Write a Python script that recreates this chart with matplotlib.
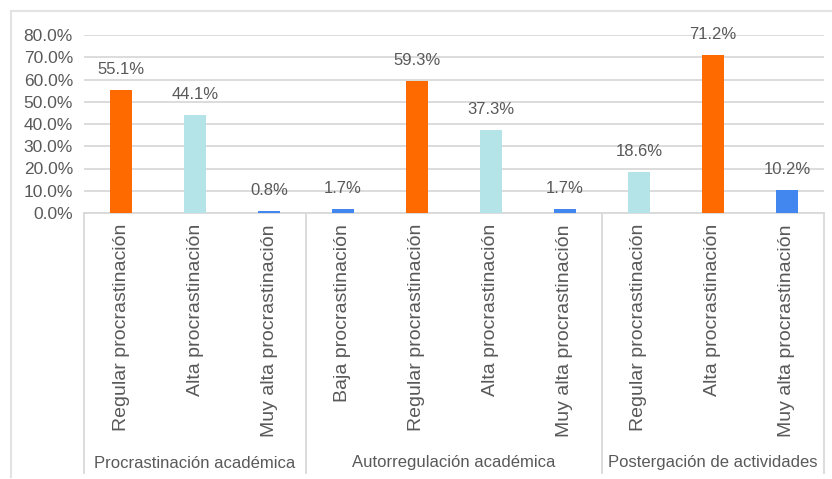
import matplotlib.pyplot as plt
from matplotlib.lines import Line2D

plt.rcParams['font.family'] = ['Liberation Sans', 'DejaVu Sans']

# datos del gráfico
grupos = ["Procrastinación académica", "Autorregulación académica", "Postergación de actividades"]
categorias = [
    ["Regular procrastinación", "Alta procrastinación", "Muy alta procrastinación"],
    ["Baja procrastinación", "Regular procrastinación", "Alta procrastinación", "Muy alta procrastinación"],
    ["Regular procrastinación", "Alta procrastinación", "Muy alta procrastinación"],
]
valores = [
    [55.1, 44.1, 0.8],
    [1.7, 59.3, 37.3, 1.7],
    [18.6, 71.2, 10.2],
]
y_ticks = [0, 10, 20, 30, 40, 50, 60, 70, 80]

# colores por barra, tal como en el original
colores = [
    ["#FF6A00", "#B4E4E8", "#4286F0"],
    ["#4286F0", "#FF6A00", "#B4E4E8", "#4286F0"],
    ["#B4E4E8", "#FF6A00", "#4286F0"],
]

texto = "#595959"
rejilla = "#D9D9D9"

fig = plt.figure(figsize=(8.32, 4.79), dpi=100)
W, H = 832, 479
x0, x1, y0, y1 = 84, 824, 213, 35
ax = fig.add_axes([x0 / W, 1 - y0 / H, (x1 - x0) / W, (y0 - y1) / H])

etiquetas = []
alturas = []
cols = []
for cats, vals, cs in zip(categorias, valores, colores):
    etiquetas += cats
    alturas += vals
    cols += cs
n = len(etiquetas)
xs = list(range(n))

ax.bar(xs, alturas, width=0.3, color=cols, zorder=3)
for x, v in zip(xs, alturas):
    ax.text(x, v + 5.8, f"{v:.1f}%", ha="center", va="bottom",
            fontsize=12, color=texto)

ax.set_xlim(-0.5, n - 0.5)
ax.set_ylim(0, 80)
ax.set_yticks(y_ticks)
ax.set_yticklabels([f"{t:.1f}%" for t in y_ticks], fontsize=12.5, color=texto)
ax.yaxis.grid(True, color=rejilla, linewidth=1.3, zorder=0)
ax.tick_params(axis="y", length=0, pad=8)
ax.set_xticks(xs)
ax.set_xticklabels(etiquetas, rotation=90, fontsize=14, color=texto, va="top", ha="center")
ax.tick_params(axis="x", length=0, pad=8)

for s in ["top", "right", "left"]:
    ax.spines[s].set_visible(False)
ax.spines["bottom"].set_color(rejilla)
ax.spines["bottom"].set_linewidth(1.3)

# separadores de grupo y etiquetas de grupo
trans = ax.get_xaxis_transform()
y_fin = -(473 - y0) / (y0 - y1)
pos = -0.5
limites = [pos]
for cats in categorias:
    pos += len(cats)
    limites.append(pos)
for b in limites:
    ax.plot([b, b], [0, y_fin], transform=trans, color=rejilla, linewidth=1.3,
            clip_on=False)
y_grupo = -(463 - y0) / (y0 - y1)
for g, a, b in zip(grupos, limites[:-1], limites[1:]):
    ax.text((a + b) / 2, y_grupo, g, transform=trans, ha="center", va="center",
            fontsize=12, color=texto)

# marco exterior
fig.add_artist(Line2D([11 / W, 1], [1 - 11 / H, 1 - 11 / H], color="#E3E3E3", linewidth=1.5))
fig.add_artist(Line2D([11 / W, 11 / W], [1 - 11 / H, 1 - 477 / H], color="#E3E3E3", linewidth=1.5))

fig.savefig("out.png", dpi=100, facecolor="white")
